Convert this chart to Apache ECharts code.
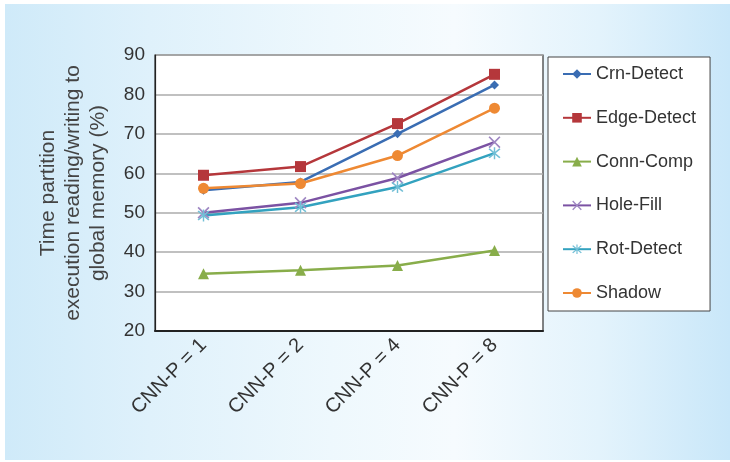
<!DOCTYPE html>
<html>
<head>
<meta charset="utf-8">
<script src="https://cdn.jsdelivr.net/npm/echarts@6/dist/echarts.min.js"></script>
<style>
html,body{margin:0;padding:0;background:#fff;width:730px;height:462px;overflow:hidden;}
#bg{position:absolute;left:5px;top:4px;right:0;bottom:2px;
background:linear-gradient(to right,#cfeaf9 0%,#dff1fb 20%,#eef8fd 45%,#f6fbfe 62%,#e3f3fc 82%,#c9e7f9 100%);}
#chart{position:absolute;left:0;top:0;width:730px;height:462px;}
</style>
</head>
<body>
<div id="bg"></div>
<div id="chart"></div>
<script>
const categories = ['CNN-P = 1', 'CNN-P = 2', 'CNN-P = 4', 'CNN-P = 8'];
const crnDetect  = [55.7, 57.8, 70.0, 82.4];
const edgeDetect = [59.5, 61.7, 72.6, 85.1];
const connComp   = [34.5, 35.4, 36.6, 40.4];
const holeFill   = [50.0, 52.5, 58.8, 67.9];
const rotDetect  = [49.3, 51.4, 56.5, 65.1];
const shadow     = [56.2, 57.4, 64.5, 76.5];
const yTicks = { min: 20, max: 90, interval: 10 };
const yName = 'Time partition\nexecution reading/writing to\nglobal memory (%)';

const FONT = '"Liberation Sans", Arial, Helvetica, sans-serif';
const X_PATH = 'path://M1,0L5,4L9,0L10,1L6,5L10,9L9,10L5,6L1,10L0,9L4,5L0,1Z';
const STAR_PATH = 'path://M1,0L5,4L9,0L10,1L6,5L10,9L9,10L5,6L1,10L0,9L4,5L0,1Z M4.4,-1L5.6,-1L5.6,11L4.4,11Z';

function mk(name, data, color, symbol, size, symColor) {
  return {
    name, type: 'line', data,
    symbol, symbolSize: size,
    lineStyle: { color, width: 2.5 },
    itemStyle: { color: symColor || color },
    emphasis: { disabled: true },
    z: 3
  };
}

const chart = echarts.init(document.getElementById('chart'), null, { renderer: 'canvas' });
chart.setOption({
  animation: false,
  backgroundColor: 'transparent',
  textStyle: { fontFamily: FONT },
  grid: {
    left: 155, top: 55, width: 388, height: 276,
    show: true, backgroundColor: '#ffffff', borderColor: '#333', borderWidth: 1.2
  },
  legend: {
    orient: 'vertical',
    left: 548, top: 57,
    padding: [8, 14, 9, 14],
    backgroundColor: '#ffffff',
    borderColor: '#444', borderWidth: 1,
    itemWidth: 28, itemHeight: 12, itemGap: 25.8,
    textStyle: { fontSize: 18, color: '#333', fontFamily: FONT, lineHeight: 18 },
    data: ['Crn-Detect', 'Edge-Detect', 'Conn-Comp', 'Hole-Fill', 'Rot-Detect', 'Shadow']
  },
  xAxis: {
    type: 'category', data: categories, boundaryGap: true,
    axisLine: { show: true, lineStyle: { color: '#222', width: 2 } },
    axisTick: { show: false },
    axisLabel: { rotate: 45, margin: 11, fontSize: 20, color: '#333', fontFamily: FONT, interval: 0 }
  },
  yAxis: {
    type: 'value', min: yTicks.min, max: yTicks.max, interval: yTicks.interval,
    name: yName, nameLocation: 'middle', nameRotate: 90, nameGap: 44,
    nameTextStyle: { fontSize: 21, color: '#444', fontFamily: FONT, lineHeight: 25, align: 'center' },
    axisLine: { show: true, lineStyle: { color: '#222', width: 1.2 } },
    axisTick: { show: false },
    axisLabel: { fontSize: 19, color: '#333', margin: 10, fontFamily: FONT },
    splitLine: { show: true, lineStyle: { color: '#ababab', width: 1.6 } }
  },
  series: [
    mk('Crn-Detect', crnDetect, '#3a6db3', 'diamond', 9),
    mk('Edge-Detect', edgeDetect, '#b5373b', 'rect', 11),
    mk('Conn-Comp', connComp, '#88ad4a', 'triangle', 11),
    mk('Hole-Fill', holeFill, '#7b52a3', X_PATH, 12, '#9e86c2'),
    mk('Rot-Detect', rotDetect, '#33a2bf', STAR_PATH, 12, '#72bfd6'),
    mk('Shadow', shadow, '#ee8933', 'circle', 11)
  ]
});
</script>
</body>
</html>
